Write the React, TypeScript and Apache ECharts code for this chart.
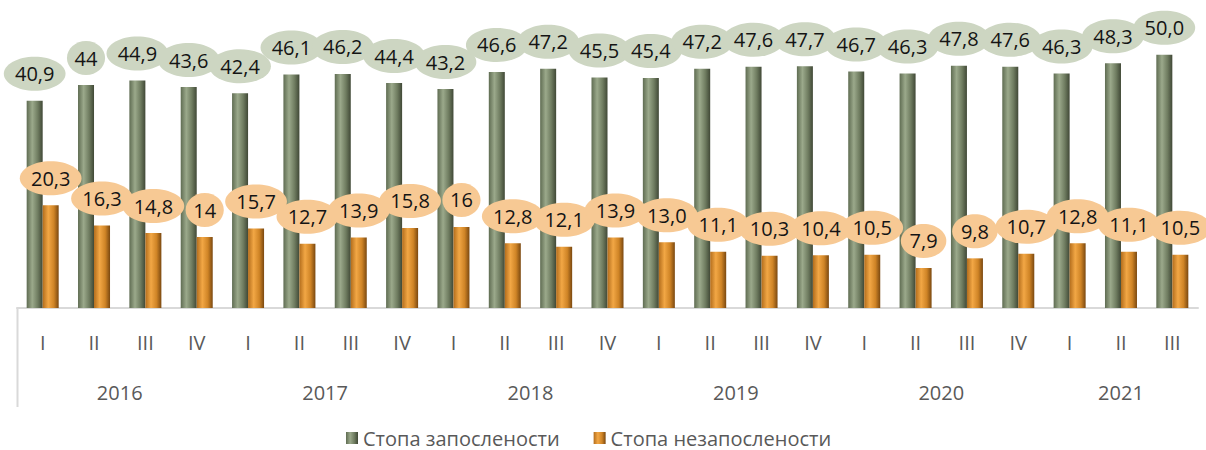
import React, { useEffect, useRef } from "react";
import * as echarts from "echarts";

const quarters = ["I","II","III","IV","I","II","III","IV","I","II","III","IV","I","II","III","IV","I","II","III","IV","I","II","III"];
const years = ["2016","2017","2018","2019","2020","2021"];
const yearStart = [0, 4, 8, 12, 16, 20];
const yearLen = [4, 4, 4, 4, 4, 3];
const employment = [40.9,44,44.9,43.6,42.4,46.1,46.2,44.4,43.2,46.6,47.2,45.5,45.4,47.2,47.6,47.7,46.7,46.3,47.8,47.6,46.3,48.3,50.0];
const employmentLabels = ["40,9","44","44,9","43,6","42,4","46,1","46,2","44,4","43,2","46,6","47,2","45,5","45,4","47,2","47,6","47,7","46,7","46,3","47,8","47,6","46,3","48,3","50,0"];
const unemployment = [20.3,16.3,14.8,14,15.7,12.7,13.9,15.8,16,12.8,12.1,13.9,13.0,11.1,10.3,10.4,10.5,7.9,9.8,10.7,12.8,11.1,10.5];
const unemploymentLabels = ["20,3","16,3","14,8","14","15,7","12,7","13,9","15,8","16","12,8","12,1","13,9","13,0","11,1","10,3","10,4","10,5","7,9","9,8","10,7","12,8","11,1","10,5"];
const seriesNames = ["Стопа запослености", "Стопа незапослености"];

const FONT = '"Open Sans", sans-serif';
const BAR_W = 16;

function measure(text: string, size: number): number {
  const c = document.createElement("canvas").getContext("2d");
  if (!c) return text.length * size * 0.55;
  c.font = `${size}px "Open Sans"`;
  return c.measureText(text).width;
}

export default function App() {
  const ref = useRef<HTMLDivElement>(null);
  useEffect(() => {
    if (!ref.current) return;
    const chart = echarts.init(ref.current, null, { renderer: "svg" });

    const greenGrad = new echarts.graphic.LinearGradient(0, 0, 1, 0, [
      { offset: 0, color: "#5f6c52" },
      { offset: 0.35, color: "#9ba98b" },
      { offset: 0.7, color: "#6f7c60" },
      { offset: 1, color: "#404836" },
    ]);
    const orangeGrad = new echarts.graphic.LinearGradient(0, 0, 1, 0, [
      { offset: 0, color: "#b36d1c" },
      { offset: 0.35, color: "#f2a745" },
      { offset: 0.7, color: "#cf8426" },
      { offset: 1, color: "#7a4810" },
    ]);

    const labelSeries = (values: number[], labels: string[], side: number, fill: string, name: string) => ({
      type: "custom",
      name,
      z: 10,
      silent: true,
      data: values.map((v, i) => [i, v]),
      encode: { x: 0, y: 1 },
      renderItem: (params: any, api: any) => {
        const i = api.value(0);
        const v = api.value(1);
        const p = api.coord([i, v]);
        const text = labels[params.dataIndex];
        const tw = measure(text, 20);
        const rx = (tw / 2 + 2) * 1.42;
        const ry = 17;
        const cx = p[0] + side * (BAR_W / 2);
        const cy = p[1] - 27;
        return {
          type: "ellipse",
          shape: { cx, cy, rx, ry },
          style: { fill },
          textContent: {
            style: { text, font: `20px ${FONT}`, fill: "#141414" },
          },
          textConfig: { position: "inside" },
        };
      },
    });

    const yearAt: Record<string, string> = {};
    years.forEach((y, k) => {
      yearAt[String(yearStart[k] + yearLen[k] / 2)] = y;
    });

    chart.setOption({
      animation: false,
      textStyle: { fontFamily: FONT },
      grid: { left: 17, right: 8, top: 4, bottom: 142, containLabel: false },
      legend: {
        data: seriesNames,
        left: 346,
        top: 428,
        padding: 0,
        itemWidth: 12,
        itemHeight: 12,
        itemGap: 34,
        icon: "rect",
        textStyle: { fontSize: 20, lineHeight: 20, color: "#595959", fontFamily: FONT },
      },
      xAxis: [
        {
          type: "category",
          data: quarters,
          position: "bottom",
          axisLine: { lineStyle: { color: "#d9d9d9", width: 2 } },
          axisTick: { show: false },
          axisLabel: { color: "#595959", fontSize: 20, margin: 24, fontFamily: FONT },
        },
        {
          type: "value",
          min: 0,
          max: quarters.length,
          interval: 0.5,
          position: "bottom",
          offset: 50,
          axisLine: { show: false },
          axisTick: { show: false },
          splitLine: { show: false },
          axisLabel: {
            color: "#595959",
            fontSize: 20,
            margin: 24,
            fontFamily: FONT,
            showMinLabel: true,
            showMaxLabel: true,
            formatter: (val: number) => yearAt[String(val)] || "",
          },
        },
      ],
      yAxis: {
        type: "value",
        min: 0,
        max: 60,
        show: false,
        splitLine: { show: false },
      },
      graphic: [
        {
          type: "line",
          shape: { x1: 17.5, y1: 308, x2: 17.5, y2: 407 },
          style: { stroke: "#d9d9d9", lineWidth: 2 },
          silent: true,
        },
      ],
      series: [
        {
          name: seriesNames[0],
          type: "bar",
          data: employment,
          barWidth: BAR_W,
          barGap: "0%",
          itemStyle: { color: greenGrad },
        },
        {
          name: seriesNames[1],
          type: "bar",
          data: unemployment,
          barWidth: BAR_W,
          barGap: "0%",
          itemStyle: { color: orangeGrad },
        },
        labelSeries(employment, employmentLabels, -1, "#cdd6c2", "lab1"),
        labelSeries(unemployment, unemploymentLabels, 1, "#f7c994", "lab2"),
      ],
    });
    return () => chart.dispose();
  }, []);
  return (
    <div
      ref={ref}
      style={{ position: "fixed", left: 0, top: 0, width: 1206, height: 450, background: "#ffffff" }}
    />
  );
}
